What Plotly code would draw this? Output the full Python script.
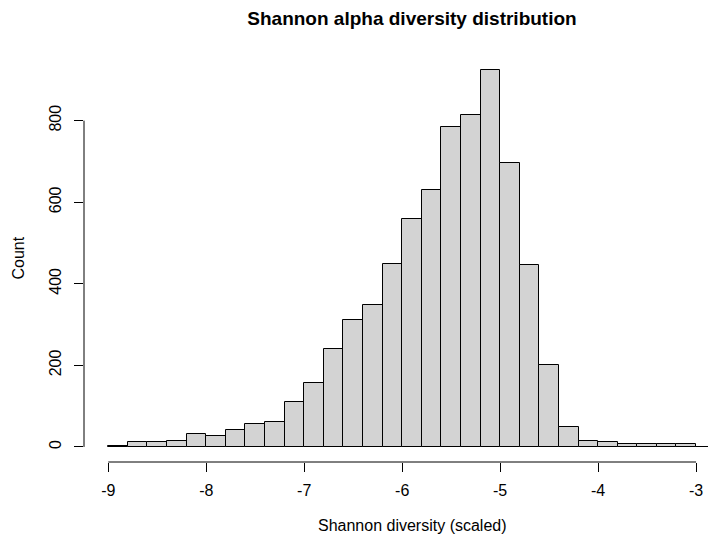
import plotly.graph_objects as go

bin_start = -9.0
bin_width = 0.2
counts = [2, 11, 11, 15, 32, 26, 42, 57, 62, 110,
          156, 240, 311, 347, 448, 558, 631, 784, 813, 924,
          696, 447, 200, 49, 15, 11, 8, 7, 6, 8, 1]
x_ticks = [-9, -8, -7, -6, -5, -4, -3]
y_ticks = [0, 200, 400, 600, 800]

centers = [bin_start + bin_width * (i + 0.5) for i in range(len(counts))]

W, H = 708, 545
ml, mr, mt, mb = 84, 0, 55, 83
font = "Liberation Sans, Arial, sans-serif"

fig = go.Figure(go.Bar(
    x=centers, y=counts, width=bin_width,
    marker=dict(color="#D3D3D3", line=dict(color="black", width=1)),
    hoverinfo="x+y",
))

ymax = max(counts)
fig.update_layout(
    width=W, height=H,
    margin=dict(l=ml, r=mr, t=mt, b=mb, pad=0),
    paper_bgcolor="white", plot_bgcolor="white",
    showlegend=False,
    font=dict(family=font, size=16, color="black"),
    title=dict(text="<b>Shannon alpha diversity distribution</b>",
               xref="container", yref="container",
               x=412 / W, y=1 - 18 / H, xanchor="center", yanchor="middle",
               font=dict(size=19, family=font, color="black")),
    bargap=0,
)
fig.update_xaxes(range=[-9.248, -2.878], tickvals=x_ticks,
                 ticktext=[str(v) for v in x_ticks],
                 ticks="outside", ticklen=9, tickcolor="black", tickwidth=1,
                 showgrid=False, zeroline=False, showline=False,
                 ticklabelstandoff=5, tickfont=dict(size=16))
fig.update_yaxes(range=[-0.04 * ymax, 1.04 * ymax], tickvals=y_ticks,
                 ticks="outside", ticklen=9, tickcolor="black", tickwidth=1,
                 showgrid=False, zeroline=False, showline=False,
                 tickangle=-90, ticklabelstandoff=7, tickfont=dict(size=16))

fig.add_shape(type="line", xref="x", yref="paper", x0=x_ticks[0], x1=x_ticks[-1],
              y0=0, y1=0, line=dict(color="black", width=1))
fig.add_shape(type="line", xref="paper", yref="y", x0=0, x1=0,
              y0=y_ticks[0], y1=y_ticks[-1], line=dict(color="black", width=1))

pw = W - ml - mr
ph = H - mt - mb
fig.add_annotation(text="Shannon diversity (scaled)", xref="paper", yref="paper",
                   x=(412 - ml) / pw, y=-(525 - (H - mb)) / ph,
                   xanchor="center", yanchor="middle", showarrow=False,
                   font=dict(size=16))
fig.add_annotation(text="Count", xref="paper", yref="paper",
                   x=(18 - ml) / pw, y=0.5, textangle=-90,
                   xanchor="center", yanchor="middle", showarrow=False,
                   font=dict(size=16))

fig.write_html("out.html")
